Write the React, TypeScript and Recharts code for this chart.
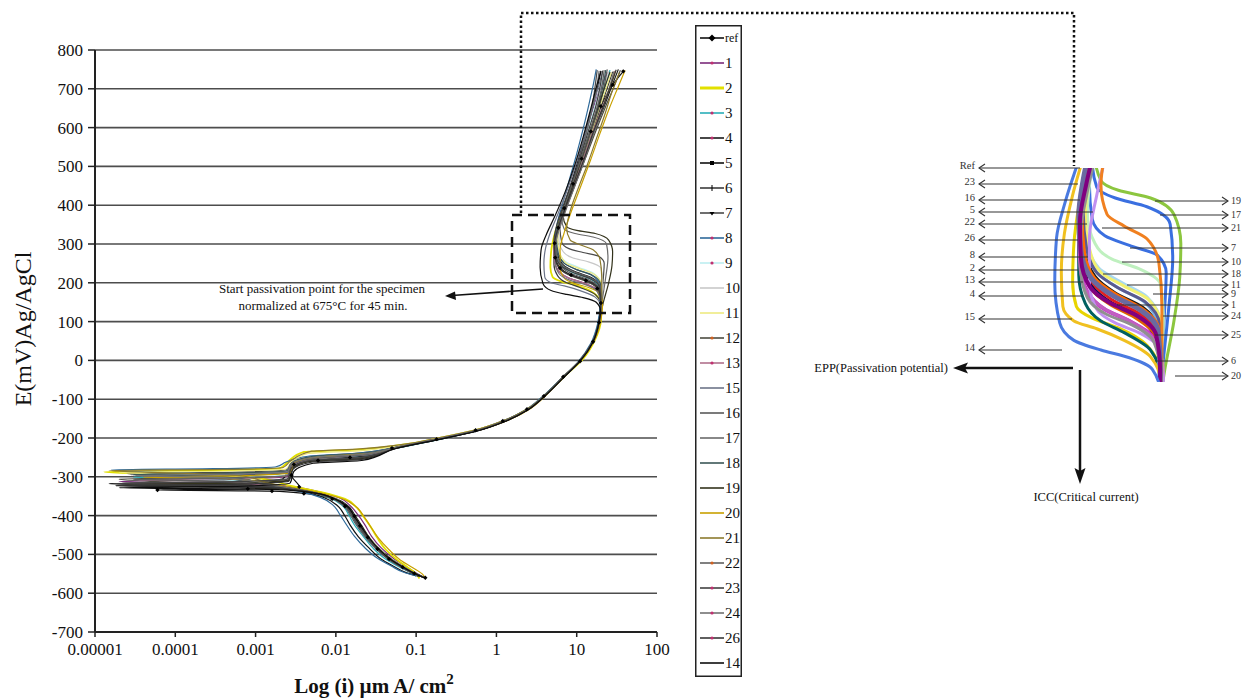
import React from 'react'
import { LineChart, Line, XAxis, YAxis, CartesianGrid, Legend } from 'recharts'

type P = [number, number]

const xTicks = [0.00001, 0.0001, 0.001, 0.01, 0.1, 1, 10, 100]
const yTicks = [-700, -600, -500, -400, -300, -200, -100, 0, 100, 200, 300, 400, 500, 600, 700, 800]

// [i (µA/cm2), E (mV)]
const sRef: P[] = [[0.13,-560],[0.095,-549],[0.068,-533],[0.046,-512],[0.033,-486],[0.025,-456],[0.02,-426],[0.017,-401],[0.013,-376],[0.009,-357],[0.004,-343],[0.0016,-337],[0.00006,-334],[0.0008,-331],[0.0035,-326],[0.0028,-296],[0.003,-268],[0.006,-258],[0.015,-250],[0.05,-226],[0.18,-203],[0.55,-180],[1.2,-156],[2.4,-126],[3.9,-92],[6.8,-42],[11,-2],[16,48],[19,98],[20,148],[18,185],[13,206],[8.5,220],[6.2,238],[5.4,265],[5.3,302],[5.9,342],[7,392],[9,455],[11.5,520],[15,590],[20,655],[28,710],[38,745]]
const s1: P[] = [[0.12,-557],[0.1,-548],[0.075,-531],[0.052,-510],[0.037,-484],[0.028,-454],[0.023,-424],[0.019,-399],[0.015,-374],[0.011,-354],[0.006,-338],[0.002,-322],[0.00002,-312],[0.0006,-306],[0.0026,-298],[0.003,-270],[0.005,-250],[0.02,-243],[0.06,-224],[0.21,-201],[0.62,-179],[1.35,-154],[2.6,-124],[4.1,-88],[7.2,-38],[11.5,2],[16.5,52],[19.5,102],[20.5,150],[18,182],[12,200],[8,212],[6,230],[5.3,258],[5.2,298],[5.7,338],[6.8,388],[8.6,450],[10.5,515],[13,585],[16,650],[20,705],[24,742]]
const s2: P[] = [[0.11,-562],[0.1,-550],[0.08,-535],[0.058,-514],[0.042,-488],[0.033,-458],[0.027,-428],[0.022,-402],[0.018,-378],[0.013,-357],[0.007,-341],[0.003,-325],[0.0008,-300],[0.000013,-287],[0.0004,-283],[0.002,-278],[0.0025,-262],[0.004,-236],[0.018,-230],[0.065,-218],[0.22,-198],[0.65,-176],[1.4,-152],[2.6,-122],[4.2,-86],[7.5,-36],[12,4],[17,54],[20,104],[20,145],[16,175],[10,193],[6.5,203],[5,215],[4.7,240],[4.8,280],[5.3,325],[6.5,380],[8.5,445],[11.5,512],[15.5,585],[21,650],[26,705],[30,745]]
const s3: P[] = [[0.1,-556],[0.085,-547],[0.06,-531],[0.041,-511],[0.029,-484],[0.022,-454],[0.017,-424],[0.0145,-399],[0.012,-374],[0.0082,-354],[0.0045,-339],[0.0015,-322],[0.0006,-308],[0.00003,-301],[0.0005,-297],[0.0024,-290],[0.0028,-266],[0.005,-252],[0.019,-246],[0.055,-227],[0.19,-204],[0.58,-181],[1.25,-157],[2.45,-127],[3.9,-92],[6.9,-43],[10.8,-3],[15.6,47],[18.7,97],[19.8,148],[18.8,190],[14,212],[9,226],[6.6,243],[5.7,270],[5.5,305],[6,345],[7.2,395],[9.2,458],[11.8,522],[15,592],[19,657],[23,712],[26,748]]
const s4: P[] = [[0.125,-559],[0.097,-549],[0.071,-533],[0.05,-513],[0.035,-486],[0.026,-456],[0.021,-426],[0.0175,-401],[0.0143,-376],[0.01,-356],[0.0055,-341],[0.0018,-328],[0.000018,-323],[0.0007,-318],[0.0026,-309],[0.0029,-280],[0.0045,-259],[0.021,-252],[0.058,-223],[0.2,-200],[0.6,-178],[1.3,-155],[2.5,-125],[4,-90],[7,-40],[11,0],[16,50],[19,100],[20,150],[18.5,186],[13.5,206],[8.8,219],[6.4,236],[5.5,263],[5.4,301],[6,341],[7.3,391],[9.5,454],[12.5,520],[16.5,590],[22,655],[28,712],[33,750]]
const s5: P[] = [[0.11,-557],[0.075,-547],[0.053,-531],[0.036,-511],[0.026,-484],[0.019,-454],[0.015,-424],[0.0128,-399],[0.0104,-374],[0.0072,-354],[0.004,-339],[0.0012,-325],[0.000015,-318],[0.0004,-314],[0.0022,-305],[0.0027,-278],[0.004,-262],[0.008,-255],[0.022,-248],[0.052,-228],[0.18,-205],[0.55,-182],[1.2,-158],[2.35,-128],[3.8,-94],[6.7,-45],[10.6,-4],[15.5,46],[18.6,96],[19.8,146],[19,193],[15,214],[9.5,229],[6.8,246],[5.8,273],[5.5,310],[5.9,348],[6.9,396],[8.6,458],[10.6,522],[13,592],[15.8,657],[18.5,712],[20,746]]
const s6: P[] = [[0.12,-558],[0.092,-548],[0.066,-532],[0.046,-512],[0.032,-485],[0.024,-455],[0.019,-425],[0.016,-400],[0.013,-375],[0.009,-355],[0.005,-340],[0.0017,-322],[0.0005,-306],[0.00004,-299],[0.0007,-295],[0.0025,-288],[0.0028,-268],[0.006,-252],[0.02,-244],[0.062,-223],[0.21,-201],[0.63,-179],[1.35,-155],[2.55,-125],[4.1,-89],[7.2,-39],[11.3,1],[16.3,51],[19.3,101],[20.2,140],[17,170],[11,188],[7.5,200],[5.8,218],[5.2,248],[5.2,290],[5.8,335],[7,388],[9,452],[11.8,518],[15.5,588],[20,653],[24.5,708],[28,744]]
const s7: P[] = [[0.115,-556],[0.088,-547],[0.063,-531],[0.044,-511],[0.031,-484],[0.023,-454],[0.018,-424],[0.0152,-399],[0.0124,-374],[0.0086,-354],[0.0048,-339],[0.0016,-321],[0.00025,-300],[0.000025,-292],[0.0006,-288],[0.0024,-282],[0.0029,-264],[0.007,-246],[0.021,-238],[0.064,-220],[0.22,-199],[0.64,-177],[1.38,-153],[2.6,-123],[4.2,-87],[7.3,-37],[11.5,3],[16.5,53],[19.5,103],[20.5,160],[21.5,215],[22,250],[19,268],[12,278],[8,288],[6.5,305],[6.2,340],[7,390],[8.8,452],[10.8,518],[13.2,588],[15.5,652],[17,708],[18,748]]
const s8: P[] = [[0.1,-555],[0.07,-546],[0.049,-530],[0.033,-510],[0.023,-483],[0.017,-453],[0.0135,-423],[0.0113,-398],[0.0092,-373],[0.0064,-353],[0.0036,-338],[0.0014,-324],[0.0005,-296],[0.000016,-282],[0.0003,-279],[0.0018,-274],[0.0024,-262],[0.0045,-247],[0.017,-240],[0.05,-226],[0.17,-205],[0.5,-183],[1.1,-160],[2.2,-130],[3.6,-96],[6.4,-47],[10.2,-6],[15,44],[18.2,94],[19.5,144],[19,196],[15.5,219],[10,234],[7,250],[5.8,278],[5.4,314],[5.7,352],[6.6,400],[8,462],[9.8,526],[12,596],[14.2,660],[16.2,714],[17.5,750]]
const s9: P[] = [[0.12,-558],[0.094,-548],[0.067,-532],[0.047,-512],[0.033,-485],[0.025,-455],[0.0195,-425],[0.0163,-400],[0.0132,-375],[0.0092,-355],[0.0052,-340],[0.0017,-322],[0.0003,-309],[0.00005,-305],[0.0008,-301],[0.0026,-294],[0.0029,-270],[0.005,-251],[0.02,-242],[0.06,-224],[0.2,-201],[0.6,-179],[1.3,-155],[2.5,-125],[4.05,-90],[7.1,-40],[11.2,0],[16.2,50],[19.2,100],[20.3,152],[20,198],[16,225],[10.5,240],[7.2,255],[6,280],[5.7,315],[6.1,350],[7.2,398],[9,460],[11.2,525],[14,595],[17,658],[20,708],[22,740]]
const s10: P[] = [[0.115,-557],[0.09,-547],[0.065,-531],[0.045,-511],[0.032,-484],[0.024,-454],[0.019,-424],[0.016,-399],[0.013,-374],[0.009,-354],[0.005,-339],[0.0016,-321],[0.0004,-303],[0.00003,-296],[0.0006,-292],[0.0025,-286],[0.0028,-266],[0.0055,-249],[0.02,-241],[0.061,-223],[0.21,-200],[0.62,-178],[1.33,-154],[2.55,-124],[4.1,-89],[7.1,-39],[11.2,1],[16.2,51],[19.2,101],[20.5,155],[21,205],[20,238],[14,254],[9,264],[6.8,280],[6,310],[6.3,348],[7.4,398],[9.3,458],[11.8,522],[15,592],[18.8,657],[22.5,710],[25,745]]
const s11: P[] = [[0.12,-558],[0.095,-548],[0.068,-532],[0.048,-512],[0.034,-485],[0.0255,-455],[0.02,-425],[0.0167,-400],[0.0135,-375],[0.0094,-355],[0.0053,-340],[0.0018,-322],[0.0005,-298],[0.00002,-289],[0.0005,-285],[0.0024,-280],[0.0028,-262],[0.0045,-240],[0.019,-233],[0.062,-219],[0.21,-198],[0.63,-176],[1.35,-153],[2.55,-123],[4.1,-88],[7.2,-38],[11.3,2],[16.3,52],[19.3,102],[20.3,150],[20.2,196],[16.5,222],[11,236],[7.5,250],[6.2,275],[5.8,310],[6.2,348],[7.4,398],[9.4,458],[12,522],[15.5,592],[19.6,657],[24,710],[27,742]]
const s12: P[] = [[0.125,-559],[0.096,-549],[0.069,-533],[0.048,-513],[0.034,-486],[0.025,-456],[0.02,-426],[0.0168,-401],[0.0137,-376],[0.0095,-356],[0.0053,-341],[0.0018,-324],[0.00002,-306],[0.0005,-302],[0.0026,-296],[0.0029,-268],[0.0055,-256],[0.022,-250],[0.057,-225],[0.195,-202],[0.59,-180],[1.28,-156],[2.48,-126],[4,-91],[7,-41],[11,-1],[16,49],[19,99],[20,149],[18.5,184],[13,204],[8.7,217],[6.3,234],[5.5,261],[5.4,300],[6,340],[7.3,390],[9.6,453],[12.8,520],[17.2,590],[23,655],[30,712],[35,748]]
const s13: P[] = [[0.118,-557],[0.092,-548],[0.066,-532],[0.046,-512],[0.0325,-485],[0.0245,-455],[0.0192,-425],[0.0162,-400],[0.013,-375],[0.009,-355],[0.005,-340],[0.0017,-324],[0.0004,-312],[0.000035,-308],[0.0007,-304],[0.0025,-297],[0.0028,-272],[0.005,-253],[0.02,-245],[0.06,-224],[0.2,-201],[0.61,-179],[1.32,-155],[2.52,-125],[4.05,-90],[7.05,-40],[11.1,0],[16.1,50],[19.1,100],[20,148],[18,180],[12.5,199],[8.3,211],[6.1,228],[5.3,256],[5.2,296],[5.8,336],[7.1,388],[9.2,452],[12,518],[15.8,588],[21,654],[26.5,710],[30,746]]
const s15: P[] = [[0.115,-556],[0.088,-547],[0.063,-531],[0.044,-511],[0.031,-484],[0.0233,-454],[0.0184,-424],[0.0155,-399],[0.0126,-374],[0.0088,-354],[0.0049,-339],[0.0016,-321],[0.0004,-300],[0.000028,-295],[0.0006,-291],[0.0024,-285],[0.0028,-265],[0.005,-249],[0.02,-241],[0.061,-222],[0.21,-200],[0.62,-178],[1.33,-154],[2.55,-124],[4.1,-89],[7.1,-39],[11.2,1],[16.2,51],[19.2,101],[20,138],[17,163],[11,180],[7,192],[4.8,200],[4,215],[3.9,250],[4.1,290],[4.7,330],[5.9,380],[7.8,445],[10,512],[12.8,585],[15.8,652],[18.8,708],[21,744]]
const s16: P[] = [[0.12,-558],[0.093,-548],[0.067,-532],[0.047,-512],[0.033,-485],[0.0248,-455],[0.0196,-425],[0.0164,-400],[0.0133,-375],[0.0093,-355],[0.0052,-340],[0.0017,-326],[0.000022,-316],[0.0006,-312],[0.0026,-304],[0.0029,-276],[0.005,-257],[0.021,-250],[0.059,-224],[0.2,-201],[0.6,-179],[1.3,-155],[2.5,-125],[4,-90],[7,-40],[11,0],[16,50],[19,100],[20,150],[18.8,188],[14,208],[9,222],[6.5,240],[5.6,268],[5.4,305],[5.9,344],[7.1,393],[9.1,456],[11.8,521],[15.2,591],[19.2,656],[22.2,711],[24,750]]
const s17: P[] = [[0.12,-558],[0.091,-548],[0.065,-532],[0.045,-512],[0.032,-485],[0.024,-455],[0.019,-425],[0.016,-400],[0.013,-375],[0.009,-355],[0.005,-340],[0.0016,-322],[0.0005,-304],[0.00004,-300],[0.0007,-296],[0.0025,-289],[0.0028,-267],[0.0055,-250],[0.02,-243],[0.062,-222],[0.21,-200],[0.63,-178],[1.35,-154],[2.55,-124],[4.1,-89],[7.1,-39],[11.2,1],[16.2,51],[19.2,101],[21,160],[23,215],[24.5,265],[23.5,300],[16,318],[9.5,327],[7,338],[6.5,365],[7.4,405],[9,460],[11,525],[13.5,595],[16,658],[18,712],[19,746]]
const s18: P[] = [[0.118,-557],[0.09,-547],[0.064,-531],[0.045,-511],[0.0318,-484],[0.0238,-454],[0.0188,-424],[0.0158,-399],[0.0128,-374],[0.009,-354],[0.005,-339],[0.0016,-321],[0.0004,-300],[0.00003,-294],[0.0006,-290],[0.0025,-284],[0.0028,-264],[0.005,-248],[0.02,-240],[0.061,-222],[0.21,-200],[0.62,-178],[1.33,-154],[2.53,-124],[4.08,-89],[7.1,-39],[11.2,1],[16.2,51],[19.2,101],[20.3,152],[19.8,196],[15.5,220],[10,234],[7,250],[5.9,276],[5.6,312],[6,350],[7.1,398],[9,460],[11.5,524],[14.8,594],[18.5,658],[21.5,712],[23,748]]
const s19: P[] = [[0.125,-559],[0.095,-549],[0.068,-533],[0.047,-513],[0.0335,-486],[0.025,-456],[0.0198,-426],[0.0166,-401],[0.0135,-376],[0.0094,-356],[0.0053,-341],[0.0017,-330],[0.000025,-320],[0.0006,-316],[0.0026,-308],[0.0029,-279],[0.0048,-260],[0.021,-253],[0.057,-225],[0.195,-202],[0.59,-180],[1.28,-156],[2.48,-126],[4,-91],[7,-41],[11,-1],[16,49],[19,99],[21.5,150],[25,200],[27.5,245],[28,280],[25,310],[17,327],[10,335],[7.5,345],[6.8,370],[7.6,410],[9.4,465],[11.8,528],[15,596],[19,660],[23,712],[26,743]]
const s20: P[] = [[0.13,-561],[0.12,-551],[0.092,-535],[0.064,-515],[0.046,-488],[0.034,-458],[0.027,-428],[0.0225,-403],[0.018,-378],[0.0125,-358],[0.007,-343],[0.0025,-326],[0.0005,-305],[0.00004,-301],[0.0007,-297],[0.0027,-290],[0.003,-266],[0.006,-249],[0.023,-241],[0.068,-221],[0.23,-199],[0.68,-177],[1.45,-153],[2.7,-123],[4.3,-87],[7.4,-37],[11.6,3],[16.8,53],[20,103],[21,145],[19.5,172],[14,188],[9.5,198],[7,212],[6.2,240],[6.2,285],[7,330],[8.6,385],[11.2,448],[14.8,515],[19.5,585],[25.5,650],[33,706],[40,748]]
const s21: P[] = [[0.12,-558],[0.093,-548],[0.067,-532],[0.047,-512],[0.033,-485],[0.025,-455],[0.0195,-425],[0.0163,-400],[0.0132,-375],[0.0092,-355],[0.0052,-340],[0.0018,-322],[0.0006,-296],[0.000015,-284],[0.0004,-281],[0.0022,-276],[0.0027,-260],[0.005,-234],[0.02,-228],[0.065,-217],[0.22,-197],[0.65,-175],[1.4,-151],[2.6,-121],[4.2,-86],[7.3,-36],[11.5,4],[16.5,54],[19.5,104],[20.5,160],[20.5,215],[19.5,260],[16,285],[11,298],[8.3,310],[7.5,340],[8.3,385],[10.5,445],[13.6,505],[17.5,570],[22.5,635],[27.5,692],[34,742]]
const s22: P[] = [[0.118,-557],[0.091,-548],[0.065,-532],[0.046,-512],[0.0322,-485],[0.0242,-455],[0.019,-425],[0.016,-400],[0.013,-375],[0.0091,-355],[0.0051,-340],[0.0017,-323],[0.0004,-311],[0.00003,-307],[0.0006,-303],[0.0025,-297],[0.0028,-271],[0.0052,-253],[0.02,-245],[0.06,-224],[0.2,-201],[0.61,-179],[1.31,-155],[2.51,-125],[4.03,-90],[7.03,-40],[11.05,0],[16.05,50],[19.05,100],[20.1,150],[19.5,192],[14.8,213],[9.5,228],[6.7,245],[5.7,272],[5.5,308],[5.9,346],[7,395],[8.9,457],[11.4,522],[14.6,592],[18.2,657],[20.8,712],[22,748]]
const s23: P[] = [[0.12,-558],[0.092,-548],[0.066,-532],[0.046,-512],[0.0325,-485],[0.0245,-455],[0.0193,-425],[0.0162,-400],[0.0131,-375],[0.0091,-355],[0.0051,-340],[0.0017,-326],[0.000017,-317],[0.0005,-313],[0.0025,-306],[0.0028,-277],[0.0048,-258],[0.02,-251],[0.058,-225],[0.2,-202],[0.6,-180],[1.3,-156],[2.5,-126],[4,-91],[7,-41],[11,-1],[16,49],[19,99],[20,150],[19.2,190],[14.5,211],[9.2,226],[6.4,244],[5.4,272],[5.2,308],[5.6,346],[6.7,395],[8.6,457],[11,522],[14,592],[17.4,657],[19.8,712],[21,747]]
const s24: P[] = [[0.122,-558],[0.094,-548],[0.068,-532],[0.047,-512],[0.0332,-485],[0.025,-455],[0.0197,-425],[0.0165,-400],[0.0134,-375],[0.0093,-355],[0.0052,-340],[0.0017,-322],[0.0004,-302],[0.000032,-297],[0.0006,-293],[0.0025,-287],[0.0028,-266],[0.0052,-250],[0.02,-242],[0.06,-223],[0.2,-201],[0.61,-179],[1.32,-155],[2.52,-125],[4.05,-90],[7.05,-40],[11.1,0],[16.1,50],[19.1,100],[20,146],[18,178],[12.5,196],[8.2,207],[6,224],[5.4,252],[5.4,292],[6,334],[7.3,386],[9.5,450],[12.5,516],[16.3,586],[21.3,652],[26,708],[29,745]]
const s26: P[] = [[0.124,-559],[0.096,-549],[0.069,-533],[0.048,-513],[0.034,-486],[0.0253,-456],[0.02,-426],[0.0167,-401],[0.0136,-376],[0.0094,-356],[0.0053,-341],[0.0018,-329],[0.00002,-323],[0.0006,-319],[0.0026,-311],[0.0029,-281],[0.005,-262],[0.021,-255],[0.057,-226],[0.196,-203],[0.59,-181],[1.28,-157],[2.48,-127],[3.98,-92],[6.98,-42],[10.9,-2],[15.9,48],[18.9,98],[19.9,149],[18.6,186],[13.4,206],[8.6,219],[6.2,236],[5.4,264],[5.3,302],[5.9,342],[7.2,392],[9.4,455],[12.4,520],[16.2,590],[21.4,655],[26.8,711],[31,749]]
const s14: P[] = [[0.125,-560],[0.097,-550],[0.07,-534],[0.049,-514],[0.0345,-487],[0.026,-457],[0.0205,-427],[0.017,-402],[0.014,-377],[0.0097,-357],[0.0055,-342],[0.0019,-333],[0.00002,-328],[0.0007,-324],[0.0027,-316],[0.003,-286],[0.0052,-265],[0.021,-258],[0.056,-227],[0.19,-204],[0.58,-182],[1.26,-158],[2.45,-128],[3.95,-93],[6.95,-43],[10.9,-3],[15.9,47],[18.9,97],[19.8,128],[17.5,150],[12,162],[7.5,170],[4.8,180],[3.8,198],[3.5,240],[3.6,285],[4.2,325],[5.3,370],[7.2,435],[9.4,502],[12,575],[14.8,645],[17.6,705],[20,745]]

const names = ['ref', '1', '2', '3', '4', '5', '6', '7', '8', '9', '10', '11', '12', '13', '15', '16', '17', '18', '19', '20', '21', '22', '23', '24', '26', '14']
const curves = [sRef, s1, s2, s3, s4, s5, s6, s7, s8, s9, s10, s11, s12, s13, s15, s16, s17, s18, s19, s20, s21, s22, s23, s24, s26, s14]
const colors = ['#111111', '#7a2a7a', '#e2e000', '#2aaeb8', '#1a1a1a', '#111111', '#3c3c3c', '#4a4a4a', '#2f6a9a', '#bdeef0', '#c8c8c8', '#eeea80', '#4c4c40', '#b0708c', '#6c7488', '#5a5a5a', '#6a6a6a', '#3a5656', '#33331c', '#c8a000', '#8c7a2e', '#606060', '#404040', '#727272', '#363636', '#0d0d0d']
const marks = ['diamond', 'dot', 'none', 'dot', 'dot', 'square', 'tick', 'tri', 'dot', 'dot', 'none', 'none', 'odot', 'dot', 'none', 'none', 'none', 'none', 'none', 'none', 'none', 'odot', 'dot', 'dot', 'dot', 'none']

// the zoomed inset uses its own palette
const insetColors = ['#1a1a40', '#d020d0', '#e8d400', '#209ea0', '#0a0a50', '#1a1a1a', '#006060', '#3a6fe0', '#78aee0', '#a8d8f0', '#bff0bf', '#f2f070', '#e06000', '#c060c0', '#f0c020', '#e02020', '#3a6fe0', '#5a5a90', '#8cc63f', '#c090f0', '#f08020', '#ff6a00', '#6a6aa0', '#909090', '#800080', '#4a7ae0']

const leftTags: [string, number, number][] = [['Ref', 168, 1080], ['23', 184, 1078], ['16', 200, 1080], ['5', 212, 1093], ['22', 224, 1087], ['26', 240, 1078], ['8', 257, 1088], ['2', 270, 1078], ['13', 282, 1083], ['4', 296, 1083], ['15', 319, 1072], ['14', 350, 1062]]
const rightTags: [string, number, number][] = [['19', 201, 1155], ['17', 215, 1160], ['21', 228, 1102], ['7', 248, 1130], ['10', 262, 1122], ['18', 274, 1103], ['11', 285, 1127], ['9', 294, 1153], ['1', 305, 1117], ['24', 316, 1163], ['25', 335, 1155], ['6', 361, 1155], ['20', 376, 1175]]

const serif = "'Liberation Serif', 'Times New Roman', serif"
const rows = (pts: P[]) => pts.map(([i, E]) => ({ i, E }))

const XTick = (p: any) => (
	<text x={p.x} y={p.y} dy={14} textAnchor="middle" fontSize={17} fontFamily={serif} fill="#111">{String(p.payload.value)}</text>
)
const YTick = (p: any) => (
	<text x={p.x} y={p.y} dy={6} textAnchor="end" fontSize={17} fontFamily={serif} fill="#111">{p.payload.value}</text>
)

const Mark = ({ kind, x, y, c }: { kind: string; x: number; y: number; c: string }) => {
	if (kind === 'diamond') return <polygon points={`${x},${y - 3.5} ${x + 3.5},${y} ${x},${y + 3.5} ${x - 3.5},${y}`} fill="#000" />
	if (kind === 'dot') return <circle cx={x} cy={y} r={1.6} fill={c === '#111111' ? '#000' : '#c03070'} />
	if (kind === 'odot') return <circle cx={x} cy={y} r={1.6} fill="#d06020" />
	if (kind === 'square') return <rect x={x - 2} y={y - 2} width={4} height={4} fill="#000" />
	if (kind === 'tick') return <line x1={x} x2={x} y1={y - 3} y2={y + 3} stroke="#000" strokeWidth={1} />
	if (kind === 'tri') return <polygon points={`${x - 2.5},${y - 1} ${x + 2.5},${y - 1} ${x},${y + 2.5}`} fill="#000" />
	return null
}

const LegendBox = () => (
	<svg width={47} height={652} style={{ display: 'block', overflow: 'visible' }}>
		<rect x={0.75} y={0.75} width={45.5} height={650.5} fill="#fff" stroke="#222" strokeWidth={1.5} />
		{names.map((n, k) => {
			const y = 13 + 25 * k
			return (
				<g key={n}>
					<line x1={5} x2={29} y1={y} y2={y} stroke={colors[k]} strokeWidth={k === 2 ? 3 : 1.6} />
					<Mark kind={marks[k]} x={17} y={y} c={colors[k]} />
					<text x={30} y={y} dy="0.35em" fontSize={n === 'ref' ? 12 : 15} fontFamily={serif} fill="#111">{n}</text>
				</g>
			)
		})}
	</svg>
)

const RefDot = (p: any) => {
	const { cx, cy, index } = p
	if (cx == null || cy == null) return <g key={index} />
	return <polygon key={index} points={`${cx},${cy - 2.2} ${cx + 2.2},${cy} ${cx},${cy + 2.2} ${cx - 2.2},${cy}`} fill="#000" />
}

export default function App() {
	const insetWidth = (n: string) => (n === '23' ? 5 : n === '1' || n === '26' || n === '4' ? 4 : 3)
	return (
		<div style={{ position: 'absolute', left: 0, top: 0, width: 1250, height: 699, background: '#fff', fontFamily: serif }}>
			<LineChart width={1250} height={699} margin={{ top: 50, right: 593, bottom: 37, left: 35 }}>
				<CartesianGrid vertical={false} stroke="#4d4d4d" strokeWidth={1.6} />
				<XAxis dataKey="i" type="number" scale="log" domain={[0.00001, 100]} ticks={xTicks} interval={0}
					height={30} tickSize={5} tickMargin={4} tick={<XTick />}
					axisLine={{ stroke: '#222', strokeWidth: 2 }} tickLine={{ stroke: '#222', strokeWidth: 1.5 }} />
				<YAxis type="number" domain={[-700, 800]} ticks={yTicks} interval={0} width={60} tickSize={7} tickMargin={5}
					tick={<YTick />} axisLine={{ stroke: '#222', strokeWidth: 2 }} tickLine={{ stroke: '#222', strokeWidth: 1.5 }} />
				<Legend layout="horizontal" verticalAlign="middle" align="center" content={() => <LegendBox />}
					wrapperStyle={{ left: 695, top: 25, width: 47, height: 652, margin: 0 }} />
				{curves.map((c, k) => (
					<Line key={names[k]} name={names[k]} data={rows(c)} dataKey="E" type="monotoneY" stroke={colors[k]}
						strokeWidth={k === 2 ? 1.8 : 1.2} dot={k === 0 ? RefDot : false} activeDot={false} isAnimationActive={false} />
				))}
			</LineChart>

			<div style={{ position: 'absolute', left: 1053, top: 168 }}>
				<LineChart width={132} height={214} margin={{ top: 0, right: 0, bottom: 0, left: 0 }}>
					<XAxis dataKey="i" type="number" scale="log" domain={[3.4, 30]} allowDataOverflow hide />
					<YAxis type="number" domain={[137, 358]} allowDataOverflow hide />
					{curves.map((c, k) => (
						<Line key={names[k]} data={rows(c)} dataKey="E" type="monotoneY" stroke={insetColors[k]}
							strokeWidth={insetWidth(names[k])} dot={false} activeDot={false} isAnimationActive={false} />
					))}
				</LineChart>
			</div>

			<svg width={1250} height={699} style={{ position: 'absolute', left: 0, top: 0, pointerEvents: 'none' }} fontFamily={serif}>
				<text x={23} y={329} transform="rotate(-90 23 329)" textAnchor="middle" dy="0.35em" fontSize={24} fill="#111">E(mV)Ag/AgCl</text>
				<text x={374} y={693} textAnchor="middle" fontSize={21} fontWeight="bold" fill="#111">
					Log (i) µm A/ cm<tspan dy={-9} fontSize={15}>2</tspan>
				</text>

				<rect x={512} y={215} width={118} height={98} fill="none" stroke="#111" strokeWidth={2.5} strokeDasharray="10 6" />
				<polyline points="521,213 521,13 1074,13 1074,166" fill="none" stroke="#111" strokeWidth={2.5} strokeDasharray="2.5 2.5" />

				<line x1={543} y1={289} x2={452} y2={295.5} stroke="#111" strokeWidth={1.6} />
				<polygon points="445,296 456,300 455,291.5" fill="#111" />
				<text x={322} y={293} textAnchor="middle" fontSize={13} fill="#111">Start passivation point for the specimen</text>
				<text x={323} y={310} textAnchor="middle" fontSize={13} fill="#111">normalized at 675°C for 45 min.</text>

				{leftTags.map(([t, y, x0]) => (
					<g key={'l' + t}>
						<line x1={x0} x2={979} y1={y} y2={y} stroke="#333" strokeWidth={1.1} />
						<polyline points={`985,${y - 4} 979,${y} 985,${y + 4}`} fill="none" stroke="#333" strokeWidth={1.1} />
						<text x={975} y={y} dy="0.1em" textAnchor="end" fontSize={10.5} fill="#333">{t}</text>
					</g>
				))}
				{rightTags.map(([t, y, x0]) => (
					<g key={'r' + t}>
						<line x1={x0} x2={1228} y1={y} y2={y} stroke="#333" strokeWidth={1.1} />
						<polyline points={`1222,${y - 4} 1228,${y} 1222,${y + 4}`} fill="none" stroke="#333" strokeWidth={1.1} />
						<text x={1231} y={y} dy="0.3em" fontSize={10} fill="#333">{t}</text>
					</g>
				))}

				<line x1={1073} y1={368} x2={962} y2={368} stroke="#111" strokeWidth={2.5} />
				<polygon points="953,368 968,362.5 965,368 968,373.5" fill="#111" />
				<text x={948} y={372} textAnchor="end" fontSize={12.5} fill="#111">EPP(Passivation potential)</text>

				<line x1={1080} y1={370} x2={1080} y2={472} stroke="#111" strokeWidth={2.5} />
				<polygon points="1080,484 1074.5,468 1080,471 1085.5,468" fill="#111" />
				<text x={1086} y={501} textAnchor="middle" fontSize={12.5} fill="#111">ICC(Critical current)</text>
			</svg>
		</div>
	)
}
